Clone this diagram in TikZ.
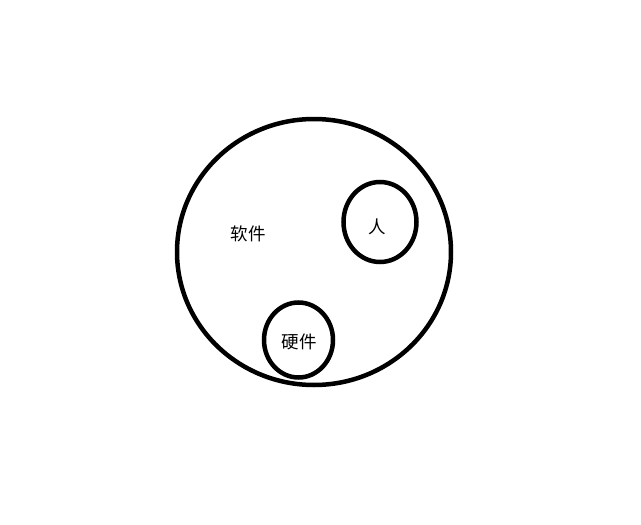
\documentclass[tikz,border=0pt]{standalone}
\usepackage{fontspec}
\newfontfamily\cjk{Noto Sans CJK SC}
\usetikzlibrary{shapes.geometric}
\tikzset{
  ring/.style={draw=black, line width=4.5pt, ellipse, inner sep=0pt},
  lbl/.style={font=\cjk\fontsize{17.5}{19}\selectfont, inner sep=0pt}
}
\begin{document}
\begin{tikzpicture}[x=1pt,y=-1pt]
\useasboundingbox (0,0) rectangle (641,525);
\fill[white] (0,0) rectangle (641,525);
\node[ring, minimum width=274pt, minimum height=266pt] (soft) at (314,252) {};
\node[ring, minimum width=73pt, minimum height=80pt] (ren) at (380,222) {};
\node[ring, minimum width=69pt, minimum height=75pt] (hard) at (298.5,340) {};
\node[lbl] (tsoft) at (248,234) {软件};
\node[lbl] (tren) at (377.5,227) {人};
\node[lbl] (thard) at (299,342) {硬件};
\end{tikzpicture}
\end{document}
